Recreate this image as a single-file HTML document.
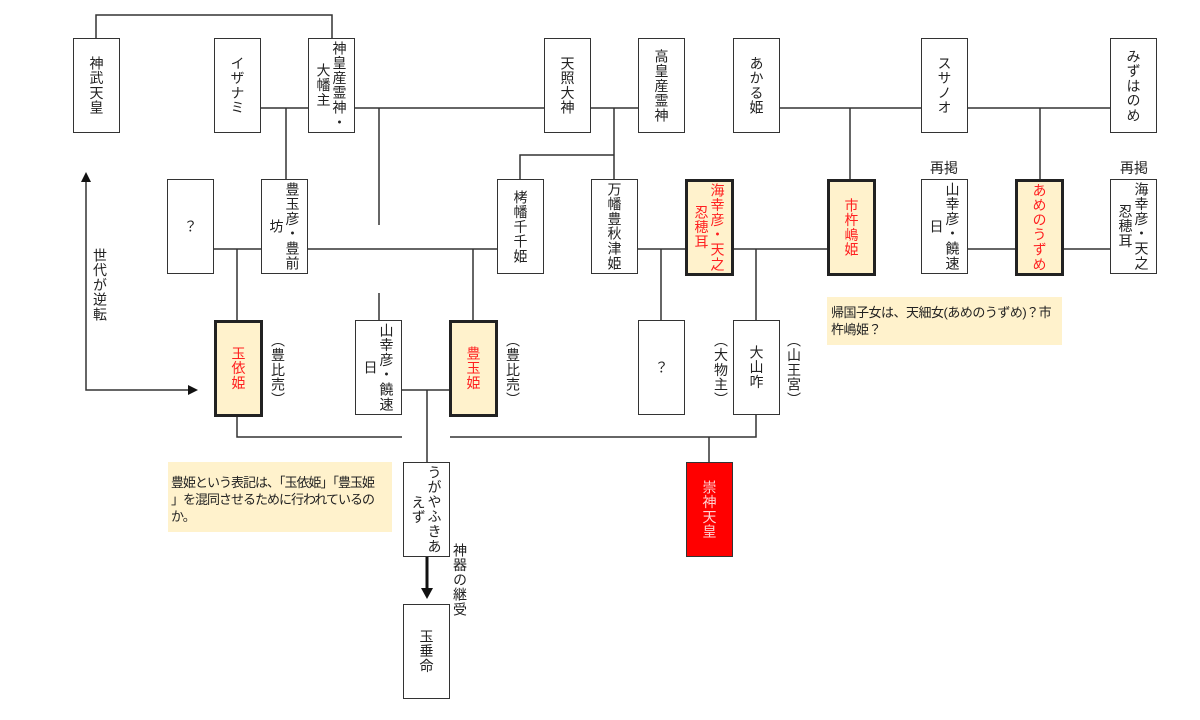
<!DOCTYPE html>
<html><head><meta charset="utf-8"><style>
html,body{margin:0;padding:0;background:#fff;}
body{width:1200px;height:720px;position:relative;overflow:hidden;font-family:"Liberation Sans","Noto Sans CJK JP",sans-serif;}
.b{position:absolute;width:45px;height:93px;border:1px solid #333;background:#fff;box-sizing:content-box;display:flex;align-items:center;justify-content:center;}
.b.t{border:3px solid #222;width:43px;height:91px;background:#fff2cc;}
.v{writing-mode:vertical-rl;text-align:center;font-size:14px;line-height:16px;color:#222;height:90px;letter-spacing:0.8px;}
.r{color:#ff2020;}
.lab{position:absolute;writing-mode:vertical-rl;font-size:14px;line-height:16px;color:#222;letter-spacing:0.8px;}
.h{position:absolute;font-size:14px;color:#222;}
svg{position:absolute;left:0;top:0;}
</style></head><body>
<svg width="1200" height="720">
<g stroke="#333" stroke-width="1.5" fill="none">
<polyline points="96,38 96,15 332,15 332,38"/>
<line x1="261" y1="108" x2="308" y2="108"/>
<line x1="355" y1="108" x2="544" y2="108"/>
<line x1="591" y1="108" x2="638" y2="108"/>
<line x1="780" y1="108" x2="921" y2="108"/>
<line x1="968" y1="108" x2="1110" y2="108"/>
<line x1="286" y1="108" x2="286" y2="179"/>
<line x1="379" y1="108" x2="379" y2="225"/>
<line x1="379" y1="293" x2="379" y2="320"/>
<line x1="614" y1="108" x2="614" y2="179"/>
<polyline points="614,155 520,155 520,179"/>
<line x1="850" y1="108" x2="850" y2="179"/>
<line x1="1040" y1="108" x2="1040" y2="179"/>
<line x1="214" y1="249" x2="261" y2="249"/>
<line x1="237" y1="249" x2="237" y2="320"/>
<line x1="308" y1="249" x2="497" y2="249"/>
<line x1="473" y1="249" x2="473" y2="320"/>
<line x1="638" y1="249" x2="685" y2="249"/>
<line x1="661" y1="249" x2="661" y2="320"/>
<line x1="732" y1="249" x2="827" y2="249"/>
<line x1="756" y1="249" x2="756" y2="320"/>
<line x1="968" y1="249" x2="1015" y2="249"/>
<line x1="1062" y1="249" x2="1110" y2="249"/>
<line x1="402" y1="390" x2="449" y2="390"/>
<line x1="427" y1="390" x2="427" y2="462"/>
<polyline points="237,414 237,437 402,437"/>
<polyline points="450,437 756,437 756,414"/>
<line x1="709" y1="437" x2="709" y2="462"/>
<polyline points="86,180 86,390 190,390"/>
</g>
<line x1="427" y1="556" x2="427" y2="590" stroke="#111" stroke-width="3"/>
<polygon points="421,588 433,588 427,599" fill="#111"/>
<polygon points="81,182 91,182 86,172" fill="#111"/>
<polygon points="188,385 188,395 198,390" fill="#111"/>
</svg>

<div class="b" style="left:73px;top:38px"><div class="v">神武天皇</div></div>
<div class="b" style="left:214px;top:38px"><div class="v">イザナミ</div></div>
<div class="b" style="left:308px;top:38px"><div class="v">神皇産霊神・<br>大幡主</div></div>
<div class="b" style="left:544px;top:38px"><div class="v">天照大神</div></div>
<div class="b" style="left:638px;top:38px"><div class="v">高皇産霊神</div></div>
<div class="b" style="left:733px;top:38px"><div class="v">あかる姫</div></div>
<div class="b" style="left:921px;top:38px"><div class="v">スサノオ</div></div>
<div class="b" style="left:1110px;top:38px"><div class="v">みずはのめ</div></div>

<div class="b" style="left:167px;top:179px"><div class="v">？</div></div>
<div class="b" style="left:261px;top:179px"><div class="v">豊玉彦・豊前<br>坊</div></div>
<div class="b" style="left:497px;top:179px"><div class="v">栲幡千千姫</div></div>
<div class="b" style="left:591px;top:179px"><div class="v">万幡豊秋津姫</div></div>
<div class="b t" style="left:685px;top:179px"><div class="v r">海幸彦・天之<br>忍穂耳</div></div>
<div class="b t" style="left:827px;top:179px"><div class="v r">市杵嶋姫</div></div>
<div class="b" style="left:921px;top:179px"><div class="v">山幸彦・饒速<br>日</div></div>
<div class="b t" style="left:1015px;top:179px"><div class="v r">あめのうずめ</div></div>
<div class="b" style="left:1110px;top:179px"><div class="v">海幸彦・天之<br>忍穂耳</div></div>
<div class="h" style="left:930px;top:158px">再掲</div>
<div class="h" style="left:1120px;top:158px">再掲</div>

<div class="b t" style="left:214px;top:320px"><div class="v r">玉依姫</div></div>
<div class="lab r" style="left:270px;top:333px">（豊比売）</div>
<div class="b" style="left:355px;top:320px"><div class="v">山幸彦・饒速<br>日</div></div>
<div class="b t" style="left:449px;top:320px"><div class="v r">豊玉姫</div></div>
<div class="lab r" style="left:505px;top:333px">（豊比売）</div>
<div class="b" style="left:638px;top:320px"><div class="v">？</div></div>
<div class="b" style="left:733px;top:320px"><div class="v">大山咋</div></div>
<div class="lab" style="left:713px;top:333px">（大物主）</div>
<div class="lab" style="left:786px;top:333px">（山王宮）</div>

<div class="b" style="left:686px;top:462px;background:#ff0000"><div class="v" style="color:#ffd0d0">崇神天皇</div></div>
<div class="b" style="left:403px;top:462px"><div class="v">うがやふきあ<br>えず</div></div>
<div class="b" style="left:403px;top:604px"><div class="v">玉垂命</div></div>
<div class="lab" style="left:452px;top:543px">神器の継受</div>
<div class="lab" style="left:92px;top:248px">世代が逆転</div>

<div style="position:absolute;left:168px;top:462px;width:224px;height:70px;background:#fff2cc;font-size:13px;line-height:17px;color:#222;padding:12px 2px 0 3px;box-sizing:border-box;letter-spacing:-1px;white-space:nowrap">豊姫という表記は、「玉依姫」「豊玉姫<br>」を混同させるために行われているの<br>か。</div>
<div style="position:absolute;left:827px;top:297px;width:235px;height:48px;background:#fff2cc;font-size:13px;line-height:17px;color:#222;padding:7px 2px 0 4px;box-sizing:border-box;letter-spacing:-0.5px;white-space:nowrap">帰国子女は、天細女(あめのうずめ)？市<br>杵嶋姫？</div>
</body></html>
